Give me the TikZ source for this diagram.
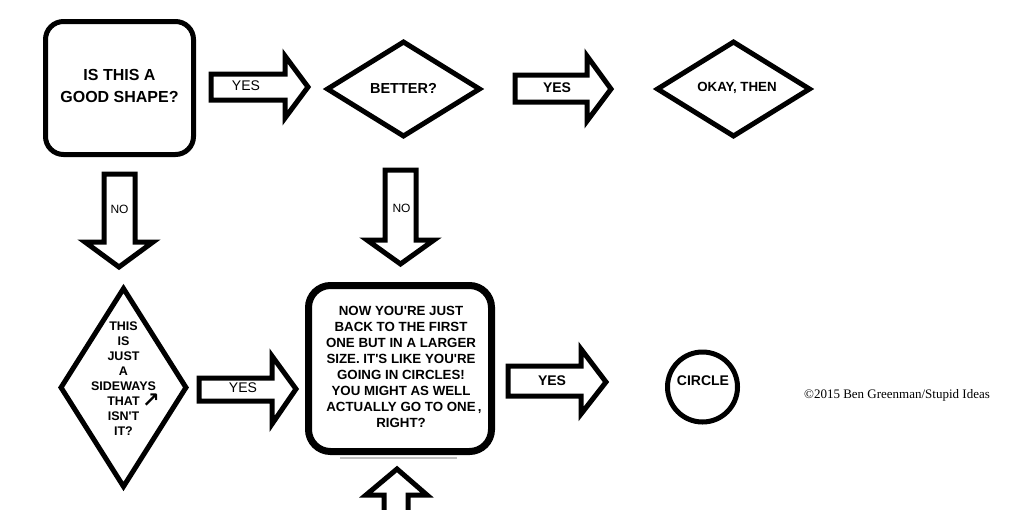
\documentclass[tikz,border=0pt]{standalone}
\usepackage{fontspec}
\setmainfont{Liberation Sans}
\newfontfamily\seriffont{Liberation Serif}
\newfontfamily\symfont{DejaVu Sans}
\usetikzlibrary{shapes.geometric}
\begin{document}
\begin{tikzpicture}[x=1pt,y=-1pt,
  thickline/.style={draw=black, line width=5pt, line join=miter},
  blockarrow/.style={draw=black, line width=5pt, line join=miter},
  roundbox/.style={draw=black, inner sep=0pt},
  dia/.style={diamond, thickline, inner sep=0pt},
  boldtext/.style={inner sep=0pt, align=center, font=\bfseries\fontsize{#1}{#1}\selectfont},
  plaintext/.style={inner sep=0pt, font=\fontsize{#1}{#1}\selectfont},
]
\useasboundingbox (0,0) rectangle (1024,509);
\fill[white] (0,0) rectangle (1024,509);
\clip (0,0) rectangle (1024,509);

% first rounded box
\node[roundbox, line width=5pt, rounded corners=18pt, minimum width=148pt, minimum height=133pt] (q1) at (119.5,88) {};
\node[boldtext=16, font=\bfseries\fontsize{16}{22}\selectfont] (q1t) at (119.5,86) {IS THIS A\\GOOD SHAPE?};

% diamonds top
\node[dia, minimum width=154pt, minimum height=96pt] (d1) at (403.5,89) {};
\node[boldtext=14.5] (d1t) at (403.5,88) {BETTER?};
\node[dia, minimum width=154pt, minimum height=96pt] (d2) at (733.5,89) {};
\node[boldtext=13.3] (d2t) at (737,88) {OKAY, THEN};

% tall diamond
\node[dia, minimum width=127pt, minimum height=200pt] (d3) at (123.5,387.5) {};
\node[inner sep=0pt, align=center, font=\bfseries\fontsize{12.5}{15}\selectfont] (d3t) at (123.5,379) {THIS\\IS\\JUST\\A\\SIDEWAYS\\THAT\\ISN\textquotesingle T\\IT?};
\node[inner sep=0pt, font=\symfont\bfseries\fontsize{21}{21}\selectfont] (ne) at (151,401) {↗};

% big rounded box
\node[roundbox, line width=7pt, rounded corners=22pt, minimum width=183pt, minimum height=166pt] (q2) at (400,368.5) {};
\node[inner sep=0pt, align=center, font=\bfseries\fontsize{13.3}{16}\selectfont] (q2t) at (401,367) {NOW YOU\textquotesingle RE JUST\\BACK TO THE FIRST\\ONE BUT IN A LARGER\\SIZE. IT\textquotesingle S LIKE YOU\textquotesingle RE\\GOING IN CIRCLES!\\YOU MIGHT AS WELL\\ACTUALLY GO TO ONE\rlap{\,,}\\RIGHT?};
\draw[black!25, line width=1.5pt] (340,458) -- (457,458);

% circle
\node[circle, thickline, minimum size=70pt, inner sep=0pt] (c) at (702.5,387) {};
\node[boldtext=14] (ct) at (703,381) {CIRCLE};

% copyright
\node[inner sep=0pt, font=\seriffont\fontsize{13}{13}\selectfont] (cr) at (897,395) {©2015 Ben Greenman/Stupid Ideas};

% block arrows
\draw[blockarrow] (211,74) -- (285,74) -- (285,56) -- (308,87) -- (285,118) -- (285,100) -- (211,100) -- cycle;
\node[plaintext=14] (a1) at (246,86) {YES};

\draw[blockarrow] (515,75) -- (587,75) -- (587,56) -- (611,89) -- (587,121) -- (587,102) -- (515,102) -- cycle;
\node[boldtext=14] (a2) at (557,88) {YES};

\draw[blockarrow] (199,378) -- (272,378) -- (272,356) -- (296,389) -- (272,424) -- (272,401) -- (199,401) -- cycle;
\node[plaintext=14] (a3) at (243,388) {YES};

\draw[blockarrow] (508,366) -- (581,366) -- (581,349) -- (606,382) -- (581,414) -- (581,396) -- (508,396) -- cycle;
\node[boldtext=14] (a4) at (552,381) {YES};

\draw[blockarrow] (104,174) -- (135,174) -- (135,242) -- (153,242) -- (119,267) -- (85,242) -- (104,242) -- cycle;
\node[plaintext=12] (n1) at (119.5,209) {NO};

\draw[blockarrow] (385,170) -- (416,170) -- (416,240) -- (434,240) -- (400.5,264) -- (367,240) -- (385,240) -- cycle;
\node[plaintext=12] (n2) at (401.5,208) {NO};

\draw[blockarrow] (384,520) -- (384,495) -- (366,495) -- (397,469) -- (427,495) -- (408,495) -- (408,520);
\end{tikzpicture}
\end{document}
